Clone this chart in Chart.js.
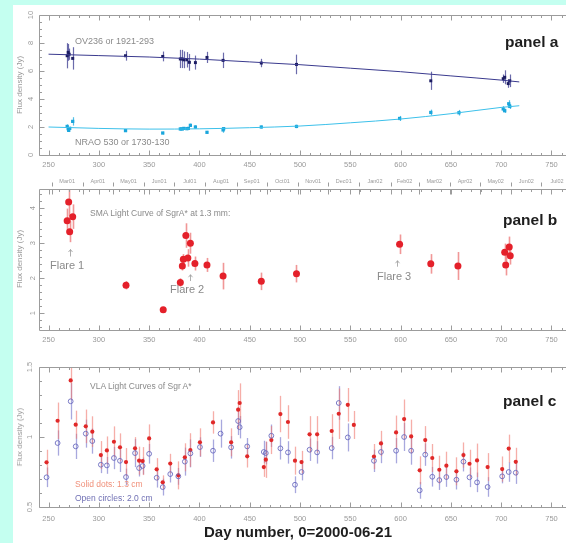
<!DOCTYPE html>
<html><head><meta charset="utf-8">
<script src="https://cdn.jsdelivr.net/npm/chart.js@4/dist/chart.umd.min.js"></script>
<style>
html,body{margin:0;padding:0;overflow:hidden;background:#c4fff0;width:566px;height:543px;}
#white{position:absolute;left:13px;top:5px;width:600px;height:600px;background:#fff;}
canvas{position:absolute;left:0;}
.t{position:absolute;font-family:"Liberation Sans",Arial,sans-serif;white-space:nowrap;line-height:1;transform:translateY(-50%);color:#8a8a8a;}
.p{font-weight:bold;color:#1e1e1e;font-size:15.5px;}
.yt{position:absolute;font-family:"Liberation Sans",Arial,sans-serif;font-size:8px;color:#9a9a9a;white-space:nowrap;line-height:1;transform:translate(-50%,-50%) rotate(-90deg);}
</style></head>
<body>
<div id="white"></div>
<canvas id="ca" width="600" height="175" style="top:0px"></canvas>
<canvas id="cb" width="600" height="175" style="top:175px"></canvas>
<canvas id="cc" width="600" height="193" style="top:350px"></canvas>

<div class="t" style="left:75px;top:40.5px;font-size:9px;">OV236 or 1921-293</div>
<div class="t" style="left:75px;top:142px;font-size:9px;">NRAO 530 or 1730-130</div>
<div class="t p" style="left:505px;top:42px;">panel a</div>
<div class="t" style="left:90px;top:213px;font-size:8.5px;">SMA Light Curve of SgrA* at 1.3 mm:</div>
<div class="t" style="left:50px;top:265px;font-size:11px;">Flare 1</div>
<div class="t" style="left:170px;top:289px;font-size:11px;">Flare 2</div>
<div class="t" style="left:377px;top:276px;font-size:11px;">Flare 3</div>
<div class="t p" style="left:503px;top:220px;">panel b</div>
<div class="t" style="left:90px;top:386px;font-size:8.5px;">VLA Light Curves of Sgr A*</div>
<div class="t" style="left:75px;top:484px;font-size:8.5px;color:#f0907a;">Solid dots: 1.3 cm</div>
<div class="t" style="left:75px;top:498px;font-size:8.5px;color:#7070b4;">Open circles: 2.0 cm</div>
<div class="t p" style="left:503px;top:401px;">panel c</div>
<div class="t" style="left:298px;top:531px;font-size:15px;font-weight:bold;color:#1e1e1e;transform:translate(-50%,-50%);">Day number, 0=2000-06-21</div>
<div class="yt" style="left:20px;top:85px;">Flux density (Jy)</div>
<div class="yt" style="left:20px;top:259px;">Flux density (Jy)</div>
<div class="yt" style="left:20px;top:437px;">Flux density (Jy)</div>

<script>
// ---------- data ----------
const xTickValues = [250,300,350,400,450,500,550,600,650,700,750];
const monthNames = ['Mar01','Apr01','May01','Jun01','Jul01','Aug01','Sep01','Oct01','Nov01','Dec01','Jan02','Feb02','Mar02','Apr02','May02','Jun02','Jul02'];
const monthStarts = [253,284,314,345,375,406,437,467,498,528,559,590,618,649,679,710,740,771];

// panel a
const aYTicks = [0,2,4,6,8,10];
const ovDays = [268.5,269.5,270.5,274,326.5,363.5,381,383,384.5,387.5,390,396,407.5,423.5,461.5,496.5,630,702,703.5,707,708.5];
const ovVals = [7.09,7.33,7.2,6.9,7.09,7.04,6.86,6.86,6.8,6.8,6.62,6.6,6.97,6.76,6.57,6.47,5.3,5.45,5.55,5.1,5.3];
const ovErrs = [0.9,0.6,0.4,0.8,0.35,0.35,0.65,0.65,0.6,0.55,0.6,0.5,0.4,0.55,0.3,0.7,0.65,0.3,0.5,0.3,0.45];
const ovFitDays = [250,300,350,400,450,500,550,600,650,700,718];
const ovFitVals = [7.2,7.1,7.0,6.85,6.65,6.45,6.2,5.95,5.65,5.35,5.22];
const nrDays = [268.5,269.5,270,271,274,326.5,363.5,381,383,384.5,387.5,389,391,396,407.5,423.5,424,461.5,496.5,599,630,658,702,703.5,707.5,708.5];
const nrVals = [2.04,1.88,1.76,1.9,2.4,1.74,1.57,1.86,1.86,1.9,1.88,1.9,2.12,2.0,1.62,1.79,1.88,2.0,2.04,2.61,3.04,3.02,3.29,3.16,3.66,3.47];
const nrErrs = [0.15,0.15,0.12,0.12,0.3,0.1,0.1,0.12,0.1,0.1,0.1,0.1,0.12,0.12,0.1,0.2,0.12,0.1,0.12,0.18,0.2,0.2,0.2,0.15,0.25,0.18];
const nrFitDays = [250,300,350,400,450,500,550,600,650,700,718];
const nrFitVals = [2.0,1.9,1.85,1.87,1.95,2.07,2.3,2.57,2.95,3.4,3.52];

// panel b
const bYTicks = [1,2,3,4];
const smaDays = [268.5,270,271,274,327,364,381,383,384,386.5,388.5,391,395.5,407.5,423.5,461.5,496.5,599,630,657,703.5,704.5,708,709];
const smaVals = [3.64,4.18,3.33,3.76,1.8,1.1,1.88,2.35,2.54,3.22,2.58,3.0,2.42,2.38,2.06,1.91,2.13,2.97,2.41,2.35,2.74,2.38,2.89,2.64];
const smaErrs = [0.35,0.4,0.3,0.35,0.12,0.05,0.12,0.13,0.15,0.35,0.25,0.3,0.2,0.2,0.38,0.25,0.25,0.28,0.28,0.4,0.25,0.3,0.3,0.25];
const flareArrowDays = [271,391,596];
const flareArrowLow = [2.62,1.92,2.33];
const flareArrowHigh = [2.82,2.1,2.5];

// panel c
const cYTicks = [0.5,1,1.5];
const vlaDays = [248,259,272,277,287,293.5,302,308,315,321,327,336,340,343.5,350,357.5,363.5,371,379,385.5,391,400.5,413.5,421,431.5,438.5,440,447.5,464,466,471.5,480.5,488,495,501.5,509.5,517,531.5,538.5,547.5,553.5,573.5,580.5,595.5,603.5,610.5,619,624.5,631.5,638.5,645.5,655.5,662.5,668.5,676,686.5,701,707.5,714.5];
const vla13 = [0.819,1.116,1.404,1.088,1.076,1.038,0.871,0.904,0.966,0.926,0.821,0.919,0.831,0.828,0.99,0.769,0.676,0.81,0.726,0.855,0.907,0.962,1.104,null,0.962,1.195,1.243,0.862,0.785,0.838,0.978,1.164,1.107,0.831,0.821,1.019,1.019,1.043,1.166,1.23,1.086,0.86,0.954,1.033,1.128,1.004,0.762,0.978,0.85,0.766,0.795,0.755,0.871,0.809,0.833,0.785,0.771,0.917,0.823];
const vla13Err = [0.09,0.13,0.14,0.1,0.12,0.11,0.1,0.1,0.11,0.1,0.1,0.08,0.1,0.1,0.1,0.08,0.05,0.07,0.1,0.1,0.12,0.1,0.08,null,0.1,0.14,0.14,0.08,0.07,0.13,0.1,0.13,0.12,0.1,0.08,0.13,0.13,0.12,0.18,0.12,0.1,0.09,0.09,0.12,0.14,0.12,0.1,0.1,0.1,0.1,0.1,0.1,0.09,0.1,0.12,0.1,0.09,0.1,0.1];
const vla20 = [0.712,0.957,1.255,0.933,1.024,0.971,0.802,0.797,0.85,0.83,0.714,0.885,0.778,0.793,0.88,0.709,0.642,0.735,0.719,0.824,0.883,0.928,0.902,1.024,0.926,1.114,1.07,0.933,0.893,0.885,1.009,0.919,0.89,0.659,0.75,0.909,0.89,0.921,1.243,0.997,null,0.83,0.893,0.902,1.0,0.902,0.619,0.874,0.716,0.692,0.714,0.695,0.824,0.712,0.676,0.643,0.719,0.75,0.745];
const vla20Err = [0.07,0.09,0.13,0.09,0.1,0.09,0.06,0.06,0.08,0.08,0.06,0.1,0.06,0.06,0.07,0.07,0.06,0.06,0.06,0.1,0.1,0.07,0.08,0.1,0.08,0.1,0.08,0.06,0.08,0.08,0.08,0.08,0.08,0.06,0.06,0.08,0.08,0.08,0.12,0.1,null,0.08,0.08,0.09,0.1,0.1,0.06,0.08,0.07,0.07,0.07,0.07,0.07,0.07,0.07,0.07,0.05,0.07,0.08];

// ---------- helpers ----------
const FONT = "'Liberation Sans', Arial, sans-serif";
const X_MIN = 240.5, X_MAX = 788.3;
const TICKCOL = '#9c9c9c';

function pts(xs, ys, es){
  const out = [];
  xs.forEach((x,i)=>{ if (ys[i] != null) out.push({x:x, y:ys[i], e: es ? es[i] : null}); });
  return out;
}

const framePlugin = {
  id:'frame',
  beforeDatasetsDraw(chart){
    const ctx = chart.ctx, a = chart.chartArea;
    ctx.save();
    ctx.beginPath(); ctx.rect(a.left, a.top, a.right-a.left, a.bottom-a.top); ctx.clip();
    chart.data.datasets.forEach((ds, di)=>{
      if (!ds.errColor) return;
      const meta = chart.getDatasetMeta(di);
      const ys = chart.scales[meta.yAxisID];
      ctx.strokeStyle = ds.errColor; ctx.lineWidth = ds.errWidth || 1;
      meta.data.forEach((el,i)=>{
        const p = ds.data[i];
        if (p.e == null) return;
        const x = Math.round(el.x)+0.5;
        ctx.beginPath();
        ctx.moveTo(x, ys.getPixelForValue(p.y - p.e));
        ctx.lineTo(x, ys.getPixelForValue(p.y + p.e));
        ctx.stroke();
      });
    });
    ctx.restore();
  },
  afterDraw(chart, args, o){
    const ctx = chart.ctx, a = chart.chartArea, xs = chart.scales.x, ys = chart.scales.y;
    ctx.save();
    ctx.strokeStyle = TICKCOL; ctx.lineWidth = 1;
    const L = Math.round(a.left)+0.5, T = Math.round(a.top)+0.5, B = Math.round(a.bottom)+0.5, R = Math.round(a.right)+0.5;
    ctx.beginPath();
    ctx.moveTo(R, T); ctx.lineTo(L, T); ctx.lineTo(L, B); ctx.lineTo(R, B);
    for (let v = Math.ceil(xs.min/10)*10; v <= xs.max; v += 10) {
      const px = Math.round(xs.getPixelForValue(v))+0.5;
      const len = (v % 50 === 0) ? 5 : 2.5;
      ctx.moveTo(px, B); ctx.lineTo(px, B - len);
      ctx.moveTo(px, T); ctx.lineTo(px, T + len);
    }
    if (o.months) {
      monthStarts.forEach(d=>{
        const px = Math.round(xs.getPixelForValue(d))+0.5;
        ctx.moveTo(px, T); ctx.lineTo(px, T + 5);
        ctx.moveTo(px, T - 3); ctx.lineTo(px, T - 7);
      });
    }
    const start = Math.ceil(ys.min/o.yMinor - 1e-6);
    for (let k = start; k*o.yMinor <= ys.max + 1e-9; k++) {
      const v = k*o.yMinor;
      const py = Math.round(ys.getPixelForValue(v))+0.5;
      const major = Math.abs(v/o.yMajor - Math.round(v/o.yMajor)) < 1e-6;
      const len = major ? 5 : 2.5;
      ctx.moveTo(L, py); ctx.lineTo(L + len, py);
    }
    ctx.stroke();
    if (o.arrows) {
      ctx.strokeStyle = '#9a9a9a'; ctx.lineWidth = 0.8;
      o.arrows.days.forEach((d,i)=>{
        const px = Math.round(xs.getPixelForValue(d))+0.5;
        const y0 = ys.getPixelForValue(o.arrows.low[i]), y1 = ys.getPixelForValue(o.arrows.high[i]);
        ctx.beginPath();
        ctx.moveTo(px, y0); ctx.lineTo(px, y1);
        ctx.moveTo(px-2, y1+2.5); ctx.lineTo(px, y1); ctx.lineTo(px+2, y1+2.5);
        ctx.stroke();
      });
    }
    ctx.restore();
  }
};

function xAxis(h, pad){
  return {
    type:'linear', position:'bottom', min:X_MIN, max:X_MAX,
    grid:{display:false, drawTicks:false}, border:{display:false},
    afterBuildTicks(s){ s.ticks = xTickValues.map(v=>({value:v})); },
    ticks:{font:{family:FONT,size:7.5}, color:'#9a9a9a', padding:pad, maxRotation:0, minRotation:0, autoSkip:false, callback:v=>String(v)},
    afterFit(s){ s.height = h; }
  };
}
function yAxis(min, max, tickVals){
  return {
    type:'linear', position:'left', min:min, max:max,
    grid:{display:false, drawTicks:false}, border:{display:false},
    afterBuildTicks(s){ s.ticks = tickVals.map(v=>({value:v})); },
    ticks:{font:{family:FONT,size:7.5}, color:'#9a9a9a', padding:4, minRotation:90, maxRotation:90, crossAlign:'center', autoSkip:false, callback:v=>String(v)},
    afterFit(s){ s.width = 39; }
  };
}
function baseOptions(padTop, scales, frame){
  return {
    responsive:false, animation:false, devicePixelRatio:1,
    layout:{padding:{left:0, right:10, top:padTop, bottom:0}},
    plugins:{legend:{display:false}, tooltip:{enabled:false}, frame:frame},
    scales:scales, events:[]
  };
}

// ---------- panel a ----------
new Chart(document.getElementById('ca'), {
  type:'scatter',
  data:{datasets:[
    {data:pts(ovFitDays, ovFitVals), showLine:true, borderColor:'#3a3a8e', borderWidth:1, pointRadius:0, cubicInterpolationMode:'monotone'},
    {data:pts(nrFitDays, nrFitVals), showLine:true, borderColor:'#3cc0ea', borderWidth:1, pointRadius:0, cubicInterpolationMode:'monotone'},
    {data:pts(ovDays, ovVals, ovErrs), pointStyle:'rect', pointRadius:2.1, backgroundColor:'#1c1c62', borderWidth:0, errColor:'rgba(70,70,150,0.8)', errWidth:1.2},
    {data:pts(nrDays, nrVals, nrErrs), pointStyle:'rect', pointRadius:2.3, backgroundColor:'#1aa6dc', borderWidth:0, errColor:'rgba(40,175,225,0.8)', errWidth:1.2}
  ]},
  options: baseOptions(15, {x:xAxis(20,5), y:yAxis(0,10,aYTicks)}, {yMajor:2, yMinor:0.5}),
  plugins:[framePlugin]
});

// ---------- panel b ----------
const topAxis = {
  type:'linear', position:'top', min:X_MIN, max:X_MAX,
  grid:{display:false, drawTicks:false}, border:{display:false},
  afterBuildTicks(s){ s.ticks = monthNames.map((m,i)=>({value:(monthStarts[i]+monthStarts[i+1])/2})); },
  ticks:{font:{family:FONT,size:5.5}, color:'#9a9a9a', padding:4, maxRotation:0, minRotation:0, autoSkip:false, callback:(v,i)=>monthNames[i]},
  afterFit(s){ s.height = 14; }
};
new Chart(document.getElementById('cb'), {
  type:'scatter',
  data:{datasets:[
    {data:pts(smaDays, smaVals, smaErrs), pointStyle:'circle', pointRadius:3.5, backgroundColor:'#e4202a', borderWidth:0, errColor:'rgba(240,140,140,0.9)', errWidth:1.6}
  ]},
  options: baseOptions(0, {x:xAxis(20,5), xTop:topAxis, y:yAxis(0.52,4.55,bYTicks)},
    {yMajor:1, yMinor:0.2, months:true, arrows:{days:flareArrowDays, low:flareArrowLow, high:flareArrowHigh}}),
  plugins:[framePlugin]
});

// ---------- panel c ----------
new Chart(document.getElementById('cc'), {
  type:'scatter',
  data:{datasets:[
    {data:pts(vlaDays, vla20, vla20Err), pointStyle:'circle', pointRadius:2.4, backgroundColor:'rgba(255,255,255,0)', borderColor:'#6c6cc0', borderWidth:0.9, errColor:'rgba(110,110,200,0.6)', errWidth:1.3},
    {data:pts(vlaDays, vla13, vla13Err), pointStyle:'circle', pointRadius:2.1, backgroundColor:'#e02828', borderWidth:0, errColor:'rgba(240,120,110,0.6)', errWidth:1.3}
  ]},
  options: baseOptions(17, {x:xAxis(36,7), y:yAxis(0.5,1.5,cYTicks)}, {yMajor:0.5, yMinor:0.1}),
  plugins:[framePlugin]
});
</script>
</body></html>
